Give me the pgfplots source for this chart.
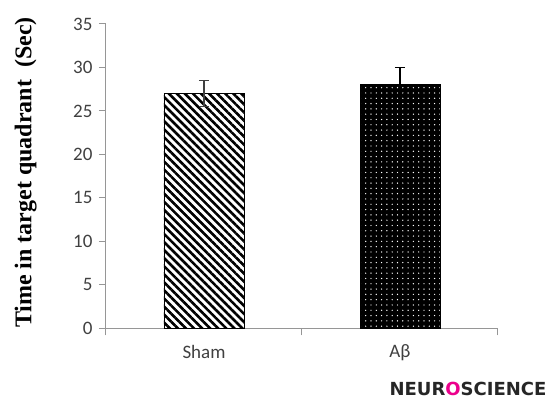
\documentclass[border=0pt]{standalone}
\usepackage{fontspec}
\setmainfont{Liberation Serif}
\newfontfamily\calib{Carlito}
\newfontfamily\logofont{DejaVu Sans}
\usepackage{pgfplots}
\pgfplotsset{compat=1.18}
\usetikzlibrary{patterns.meta}
\definecolor{axgray}{HTML}{969696}
\definecolor{lblgray}{HTML}{404040}
\begin{document}
\begin{tikzpicture}
\begin{axis}[
 scale only axis, width=392pt, height=304.4pt,
 xmin=0, xmax=2, ymin=0, ymax=35,
 axis x line*=bottom, axis y line*=left,
 axis line style={draw=axgray, line width=1pt, -},
 tick align=outside, major tick length=7pt,
 tick style={draw=axgray, line width=1pt},
 xtick={0,1,2}, xticklabels={},
 extra x ticks={0.5,1.5}, extra x tick labels={Sham,Aβ},
 extra x tick style={major tick length=0pt, xticklabel style={yshift=-13pt}},
 ytick={0,5,...,35},
 ticklabel style={font=\calib\fontsize{19}{22}\selectfont, text=lblgray},
 yticklabel style={xshift=-3pt},
 /pgf/number format/assume math mode=true,
 ylabel={Time in target quadrant\ \ (Sec)},
 ylabel style={font=\bfseries\fontsize{24}{28}\selectfont, at={(axis description cs:-0.205,0.512)}, anchor=center},
 ybar, bar shift=0pt, bar width=80pt,
]
\addplot[draw=black, line width=0.8pt,
  pattern={Lines[angle=-45,distance=5.7pt,line width=2.6pt]},
  error bars/.cd, y dir=both, y explicit,
  error bar style={draw=lblgray, line width=1.2pt},
  error mark options={rotate=90, mark size=5pt, line width=1.2pt, draw=lblgray}]
  coordinates {(0.5,27) +- (0,1.5)};
\addplot[draw=black, line width=0.8pt, fill=black,
  postaction={pattern={Dots[distance=5.3pt,radius=0.7pt]}, pattern color=white},
  error bars/.cd, y dir=both, y explicit,
  error bar style={draw=black, line width=1.2pt},
  error mark options={rotate=90, mark size=5pt, line width=1.2pt, draw=black}]
  coordinates {(1.5,28) +- (0,2)};
\end{axis}
\node[font=\logofont\bfseries\fontsize{18}{21}\selectfont, text=black!85] at (362pt,-61pt) {NEUR{\color{magenta}O}SCIENCE};
\path (-106pt,-72pt) rectangle (452pt,328.4pt);
\end{tikzpicture}
\end{document}
